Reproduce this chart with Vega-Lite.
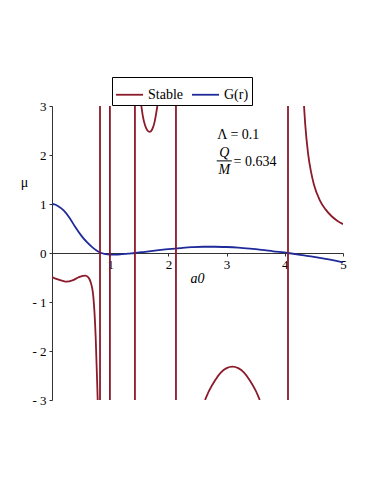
{
  "$schema": "https://vega.github.io/schema/vega-lite/v6.json",
  "width": 291,
  "height": 294,
  "autosize": "none",
  "padding": {"left": 52, "top": 106, "right": 31, "bottom": 84},
  "config": {"view": {"stroke": null}, "font": "Liberation Serif"},
  "datasets": {
    "curves": [
      {"series": "G(r)", "seg": "g", "x": 0, "y": 1.0},
      {"series": "G(r)", "seg": "g", "x": 0.05, "y": 0.99},
      {"series": "G(r)", "seg": "g", "x": 0.1, "y": 0.96},
      {"series": "G(r)", "seg": "g", "x": 0.2, "y": 0.87},
      {"series": "G(r)", "seg": "g", "x": 0.3, "y": 0.72},
      {"series": "G(r)", "seg": "g", "x": 0.4, "y": 0.53},
      {"series": "G(r)", "seg": "g", "x": 0.5, "y": 0.36},
      {"series": "G(r)", "seg": "g", "x": 0.6, "y": 0.22},
      {"series": "G(r)", "seg": "g", "x": 0.7, "y": 0.11},
      {"series": "G(r)", "seg": "g", "x": 0.8, "y": 0.025},
      {"series": "G(r)", "seg": "g", "x": 0.9, "y": -0.02},
      {"series": "G(r)", "seg": "g", "x": 1.0, "y": -0.035},
      {"series": "G(r)", "seg": "g", "x": 1.1, "y": -0.035},
      {"series": "G(r)", "seg": "g", "x": 1.2, "y": -0.025},
      {"series": "G(r)", "seg": "g", "x": 1.3, "y": -0.012},
      {"series": "G(r)", "seg": "g", "x": 1.42, "y": 0},
      {"series": "G(r)", "seg": "g", "x": 1.6, "y": 0.025},
      {"series": "G(r)", "seg": "g", "x": 1.8, "y": 0.052},
      {"series": "G(r)", "seg": "g", "x": 2.0, "y": 0.08},
      {"series": "G(r)", "seg": "g", "x": 2.2, "y": 0.1},
      {"series": "G(r)", "seg": "g", "x": 2.4, "y": 0.118},
      {"series": "G(r)", "seg": "g", "x": 2.6, "y": 0.128},
      {"series": "G(r)", "seg": "g", "x": 2.8, "y": 0.128},
      {"series": "G(r)", "seg": "g", "x": 3.0, "y": 0.122},
      {"series": "G(r)", "seg": "g", "x": 3.2, "y": 0.11},
      {"series": "G(r)", "seg": "g", "x": 3.4, "y": 0.09},
      {"series": "G(r)", "seg": "g", "x": 3.6, "y": 0.065},
      {"series": "G(r)", "seg": "g", "x": 3.8, "y": 0.035},
      {"series": "G(r)", "seg": "g", "x": 4.05, "y": 0},
      {"series": "G(r)", "seg": "g", "x": 4.3, "y": -0.045},
      {"series": "G(r)", "seg": "g", "x": 4.5, "y": -0.08},
      {"series": "G(r)", "seg": "g", "x": 4.7, "y": -0.12},
      {"series": "G(r)", "seg": "g", "x": 5.0, "y": -0.19},

      {"series": "Stable", "seg": "s1", "x": 0, "y": -0.49},
      {"series": "Stable", "seg": "s1", "x": 0.1, "y": -0.54},
      {"series": "Stable", "seg": "s1", "x": 0.2, "y": -0.575},
      {"series": "Stable", "seg": "s1", "x": 0.25, "y": -0.585},
      {"series": "Stable", "seg": "s1", "x": 0.35, "y": -0.56},
      {"series": "Stable", "seg": "s1", "x": 0.45, "y": -0.5},
      {"series": "Stable", "seg": "s1", "x": 0.53, "y": -0.465},
      {"series": "Stable", "seg": "s1", "x": 0.57, "y": -0.46},
      {"series": "Stable", "seg": "s1", "x": 0.62, "y": -0.49},
      {"series": "Stable", "seg": "s1", "x": 0.66, "y": -0.58},
      {"series": "Stable", "seg": "s1", "x": 0.71, "y": -0.89},
      {"series": "Stable", "seg": "s1", "x": 0.75, "y": -1.7},
      {"series": "Stable", "seg": "s1", "x": 0.775, "y": -2.6},
      {"series": "Stable", "seg": "s1", "x": 0.785, "y": -3},

      {"series": "Stable", "seg": "v1", "x": 0.825, "y": -3},
      {"series": "Stable", "seg": "v1", "x": 0.825, "y": 3},
      {"series": "Stable", "seg": "v2", "x": 0.995, "y": -3},
      {"series": "Stable", "seg": "v2", "x": 0.995, "y": 3},
      {"series": "Stable", "seg": "v3", "x": 1.425, "y": -3},
      {"series": "Stable", "seg": "v3", "x": 1.425, "y": 3},
      {"series": "Stable", "seg": "v4", "x": 2.13, "y": -3},
      {"series": "Stable", "seg": "v4", "x": 2.13, "y": 3},
      {"series": "Stable", "seg": "v5", "x": 4.055, "y": -3},
      {"series": "Stable", "seg": "v5", "x": 4.055, "y": 3},

      {"series": "Stable", "seg": "u", "x": 1.535, "y": 3},
      {"series": "Stable", "seg": "u", "x": 1.56, "y": 2.8},
      {"series": "Stable", "seg": "u", "x": 1.6, "y": 2.6},
      {"series": "Stable", "seg": "u", "x": 1.64, "y": 2.5},
      {"series": "Stable", "seg": "u", "x": 1.68, "y": 2.47},
      {"series": "Stable", "seg": "u", "x": 1.72, "y": 2.52},
      {"series": "Stable", "seg": "u", "x": 1.76, "y": 2.66},
      {"series": "Stable", "seg": "u", "x": 1.79, "y": 2.85},
      {"series": "Stable", "seg": "u", "x": 1.81, "y": 3},

      {"series": "Stable", "seg": "a", "x": 2.63, "y": -3},
      {"series": "Stable", "seg": "a", "x": 2.7, "y": -2.81},
      {"series": "Stable", "seg": "a", "x": 2.8, "y": -2.6},
      {"series": "Stable", "seg": "a", "x": 2.9, "y": -2.44},
      {"series": "Stable", "seg": "a", "x": 3.0, "y": -2.35},
      {"series": "Stable", "seg": "a", "x": 3.1, "y": -2.32},
      {"series": "Stable", "seg": "a", "x": 3.2, "y": -2.35},
      {"series": "Stable", "seg": "a", "x": 3.3, "y": -2.44},
      {"series": "Stable", "seg": "a", "x": 3.4, "y": -2.6},
      {"series": "Stable", "seg": "a", "x": 3.5, "y": -2.81},
      {"series": "Stable", "seg": "a", "x": 3.57, "y": -3},

      {"series": "Stable", "seg": "r", "x": 4.33, "y": 3.0},
      {"series": "Stable", "seg": "r", "x": 4.35, "y": 2.64},
      {"series": "Stable", "seg": "r", "x": 4.4, "y": 2.03},
      {"series": "Stable", "seg": "r", "x": 4.45, "y": 1.66},
      {"series": "Stable", "seg": "r", "x": 4.5, "y": 1.4},
      {"series": "Stable", "seg": "r", "x": 4.6, "y": 1.08},
      {"series": "Stable", "seg": "r", "x": 4.7, "y": 0.89},
      {"series": "Stable", "seg": "r", "x": 4.8, "y": 0.755},
      {"series": "Stable", "seg": "r", "x": 4.9, "y": 0.66},
      {"series": "Stable", "seg": "r", "x": 5.0, "y": 0.59}
    ],
    "centerText": [
      {"x": 3.2, "y": 2.41, "t": "Λ = 0.1"}
    ],
    "italicText": [
      {"x": 2.96, "y": 2.04, "t": "Q"},
      {"x": 2.96, "y": 1.70, "t": "M"}
    ],
    "leftText": [
      {"x": 3.12, "y": 1.86, "t": "= 0.634"}
    ],
    "bar": [
      {"x": 2.83, "x2": 3.09, "y": 1.88}
    ]
  },
  "layer": [
    {
      "data": {"name": "curves"},
      "mark": {"type": "line", "clip": true, "strokeWidth": 1.8, "interpolate": "monotone"},
      "encoding": {
        "x": {
          "field": "x", "type": "quantitative",
          "scale": {"domain": [0, 5], "nice": false, "zero": false},
          "axis": {
            "orient": "bottom", "offset": -147,
            "values": [1, 2, 3, 4, 5], "format": "d",
            "title": "a0", "titleFont": "Liberation Serif", "titleFontStyle": "italic",
            "titleFontWeight": "normal", "titleFontSize": 14, "titleColor": "#000",
            "titleX": 145, "titleY": 29, "titleBaseline": "alphabetic",
            "domainColor": "#333", "domainWidth": 1, "tickColor": "#333", "tickSize": 3,
            "labelFont": "Liberation Serif", "labelFontSize": 13, "labelColor": "#000",
            "labelPadding": 2, "labelOverlap": false, "labelFlush": false, "grid": false
          }
        },
        "y": {
          "field": "y", "type": "quantitative",
          "scale": {"domain": [-3, 3], "nice": false, "zero": false},
          "axis": {
            "values": [-3, -2, -1, 0, 1, 2, 3],
            "labelExpr": "datum.value < 0 ? '- ' + abs(datum.value) : datum.label",
            "title": "μ", "titleAngle": 0, "titleX": -28, "titleY": 76,
            "titleAlign": "center", "titleBaseline": "middle",
            "titleFont": "Liberation Serif", "titleFontWeight": "normal", "titleFontSize": 14, "titleColor": "#000",
            "domainColor": "#333", "domainWidth": 1, "tickColor": "#333", "tickSize": 3,
            "labelFont": "Liberation Serif", "labelFontSize": 13, "labelColor": "#000",
            "labelPadding": 3, "labelOverlap": false, "labelFlush": false, "grid": false
          }
        },
        "color": {
          "field": "series", "type": "nominal",
          "scale": {"domain": ["Stable", "G(r)"], "range": ["#8b1a2a", "#1f2a9a"]},
          "legend": {
            "orient": "none", "legendX": 60, "legendY": -29, "direction": "horizontal",
            "title": null, "strokeColor": "#000", "padding": 3,
            "symbolType": "stroke", "symbolSize": 729, "symbolStrokeWidth": 1.8,
            "labelFont": "Liberation Serif", "labelFontSize": 14, "labelColor": "#000",
            "columnPadding": 5, "labelOffset": 4
          }
        },
        "detail": {"field": "seg"}
      }
    },
    {
      "data": {"name": "bar"},
      "mark": {"type": "rule", "color": "#000", "strokeWidth": 1},
      "encoding": {
        "x": {"field": "x", "type": "quantitative"},
        "x2": {"field": "x2"},
        "y": {"field": "y", "type": "quantitative"}
      }
    },
    {
      "data": {"name": "centerText"},
      "mark": {"type": "text", "font": "Liberation Serif", "fontSize": 14, "align": "center", "baseline": "middle", "color": "#000"},
      "encoding": {
        "x": {"field": "x", "type": "quantitative"},
        "y": {"field": "y", "type": "quantitative"},
        "text": {"field": "t"}
      }
    },
    {
      "data": {"name": "italicText"},
      "mark": {"type": "text", "font": "Liberation Serif", "fontSize": 14, "fontStyle": "italic", "align": "center", "baseline": "middle", "color": "#000"},
      "encoding": {
        "x": {"field": "x", "type": "quantitative"},
        "y": {"field": "y", "type": "quantitative"},
        "text": {"field": "t"}
      }
    },
    {
      "data": {"name": "leftText"},
      "mark": {"type": "text", "font": "Liberation Serif", "fontSize": 14, "align": "left", "baseline": "middle", "color": "#000"},
      "encoding": {
        "x": {"field": "x", "type": "quantitative"},
        "y": {"field": "y", "type": "quantitative"},
        "text": {"field": "t"}
      }
    }
  ]
}
